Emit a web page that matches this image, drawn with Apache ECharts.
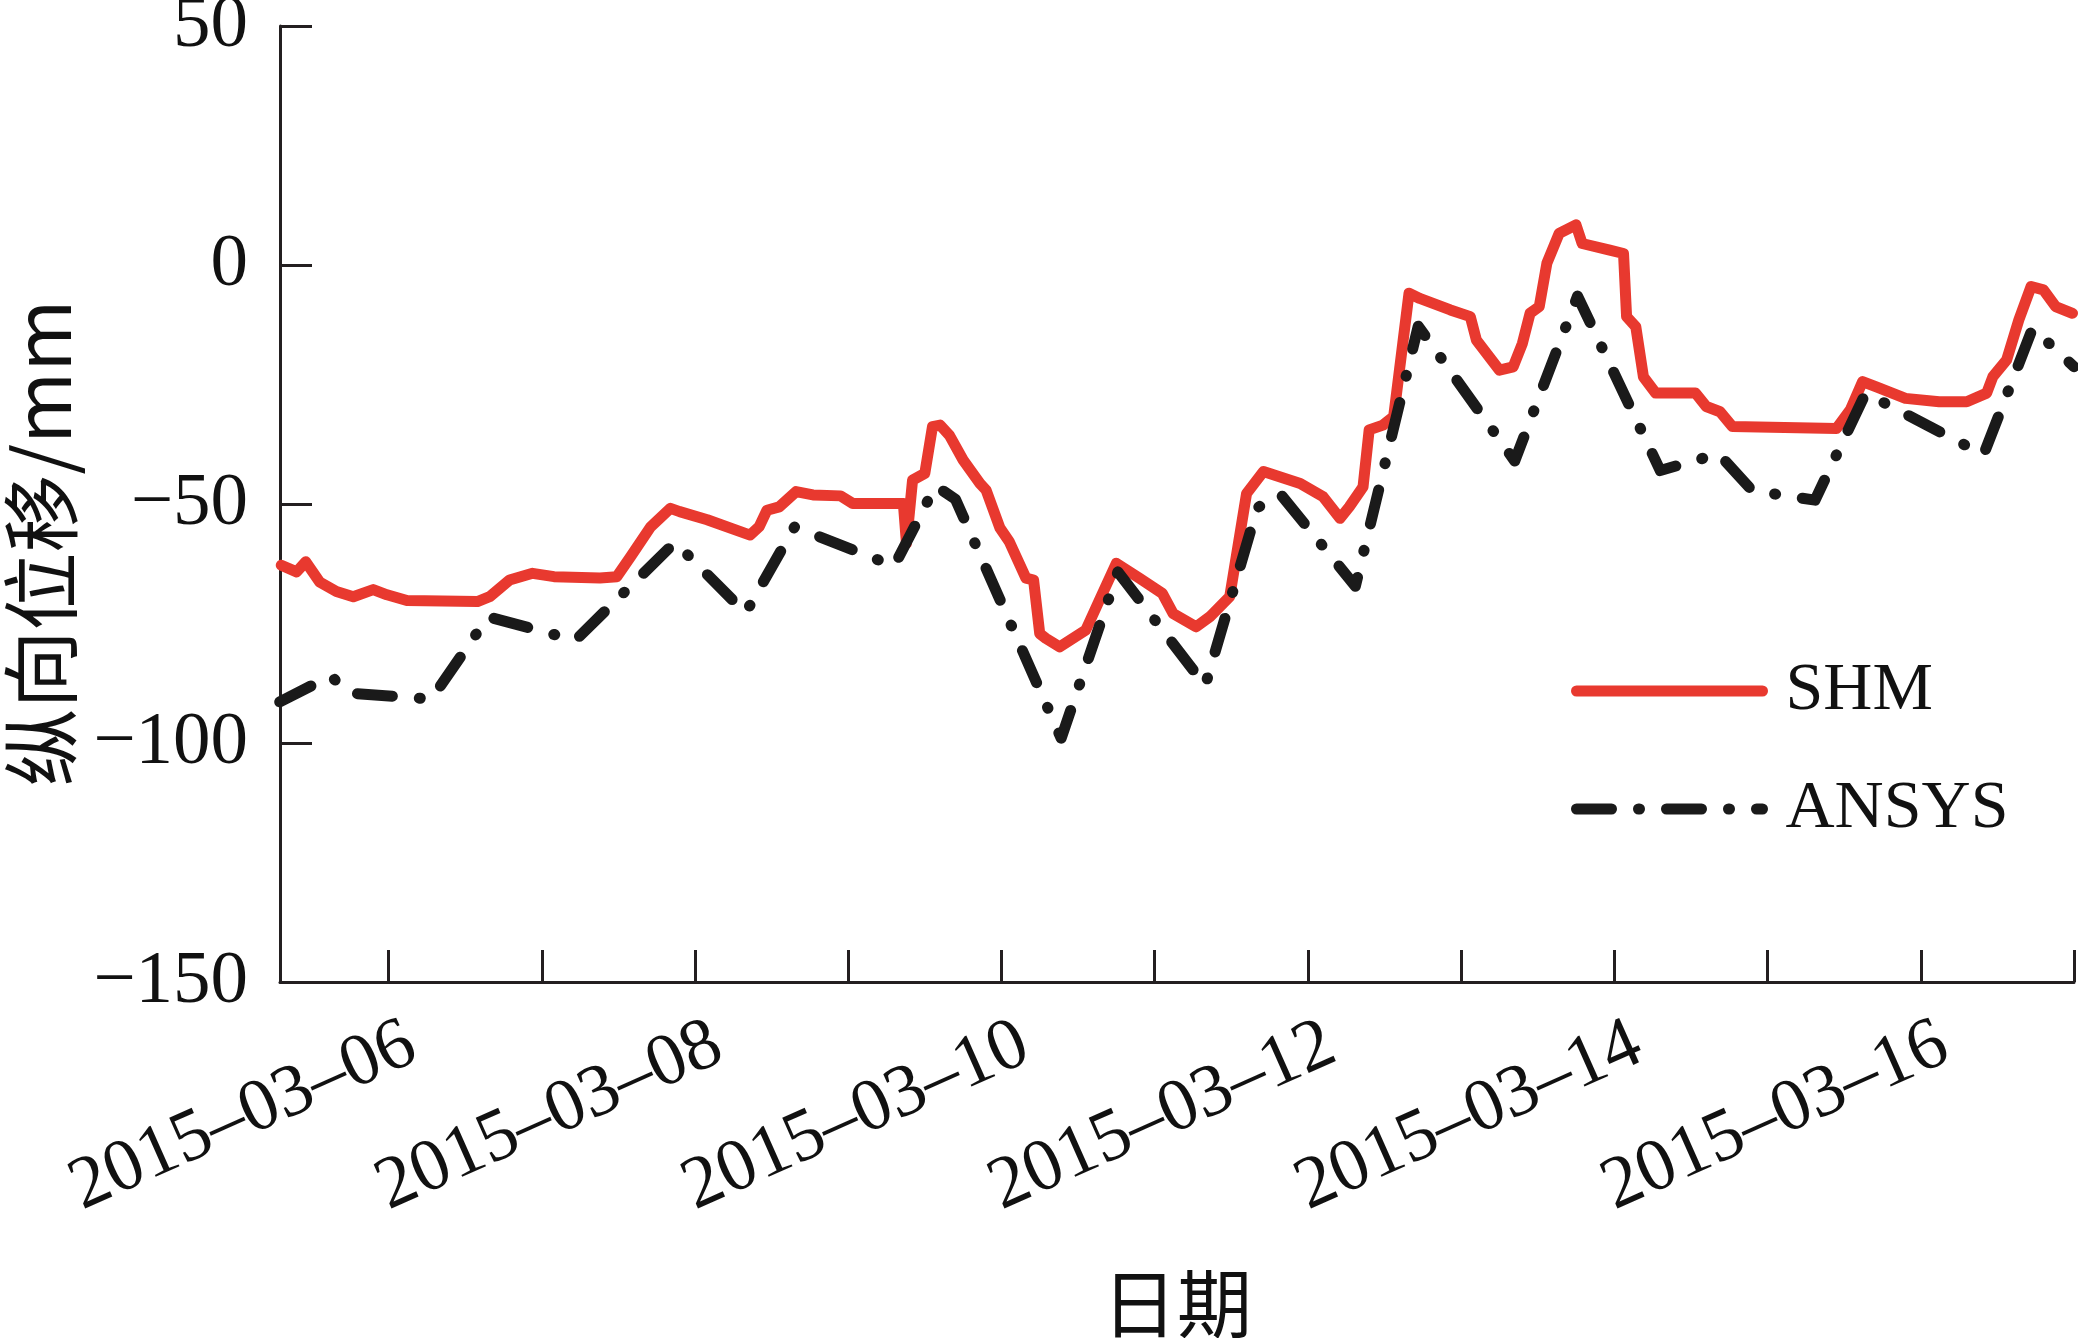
<!DOCTYPE html>
<html>
<head>
<meta charset="utf-8">
<script src="https://cdn.jsdelivr.net/npm/echarts@6/dist/echarts.min.js"></script>
<style>
html,body{margin:0;padding:0;background:#fff;}
#chart{width:2078px;height:1338px;}
</style>
</head>
<body>
<div id="chart"></div>
<script>
// x values are day-of-March 2015 (fractional)
const shmDays = [5.30,5.40,5.46,5.55,5.66,5.77,5.90,5.99,6.12,6.58,6.66,6.79,6.94,7.08,7.38,7.49,7.58,7.71,7.84,7.90,
  8.08,8.36,8.42,8.47,8.55,8.66,8.77,8.95,9.03,9.36,9.38,9.42,9.50,9.55,9.60,9.66,9.75,9.86,9.90,9.99,
  10.05,10.16,10.21,10.25,10.29,10.38,10.55,10.64,10.75,10.90,11.05,11.12,11.27,11.36,11.49,11.60,11.71,11.95,12.10,12.21,
  12.27,12.36,12.40,12.49,12.56,12.66,12.73,12.93,13.06,13.10,13.25,13.34,13.40,13.45,13.51,13.56,13.64,13.75,13.79,13.97,
  14.06,14.08,14.14,14.19,14.27,14.53,14.60,14.69,14.77,15.45,15.54,15.62,15.71,15.90,16.12,16.30,16.43,16.47,16.56,16.64,
  16.72,16.80,16.88,16.99];
const shmValues = [-62.8,-64.2,-62.1,-66.3,-68.3,-69.4,-67.9,-69.0,-70.2,-70.4,-69.4,-65.9,-64.5,-65.2,-65.5,-65.2,-61.0,-54.8,-50.9,-51.6,
  -53.3,-56.5,-54.7,-51.3,-50.6,-47.4,-48.1,-48.3,-49.9,-49.9,-58.2,-45.0,-43.6,-33.8,-33.5,-35.6,-40.8,-45.7,-47.1,-55.0,
  -57.8,-65.5,-65.9,-77.1,-78.1,-79.9,-76.4,-70.1,-62.4,-65.5,-68.7,-72.9,-75.7,-73.6,-69.4,-47.8,-43.2,-45.7,-48.5,-53.0,
  -50.6,-46.4,-34.5,-33.5,-31.7,-5.9,-7.0,-9.4,-10.8,-15.7,-22.0,-21.3,-16.4,-10.1,-8.7,0.4,6.6,8.4,4.5,3.1,
  2.4,-10.8,-12.9,-23.4,-26.8,-26.8,-29.6,-30.7,-33.8,-34.2,-30.3,-24.4,-25.5,-27.9,-28.6,-28.6,-26.8,-23.4,-19.9,-11.5,
  -4.5,-5.2,-8.7,-10.1];
const ansysDays = [5.29,5.62,5.76,6.28,6.65,7.22,7.87,8.33,8.65,9.30,9.57,9.70,10.39,10.76,11.33,11.67,11.82,12.31,12.72,13.35,
  13.76,14.30,14.68,14.90,15.31,15.64,16.41,16.73,17.00];
const ansysValues = [-91.4,-86.0,-89.6,-90.8,-73.6,-78.5,-58.0,-72.8,-54.8,-63.0,-46.2,-49.0,-99.0,-64.2,-88.0,-50.8,-47.9,-67.2,-12.8,-41.0,
  -6.5,-43.0,-39.5,-47.2,-49.2,-26.8,-39.7,-13.2,-21.3];
const yTicks = [-150, -100, -50, 0, 50];
const seriesNames = ['SHM', 'ANSYS'];

const zip = (xs, ys) => xs.map((x, i) => [x, ys[i]]);
const axisColor = '#231f20';
const red = '#e8392f';
const black = '#1a1a1a';
const dashPattern = [35, 27, 1, 27];
const serif = '"Liberation Serif", "Times New Roman", serif';
const cjk = '"Noto Sans CJK SC", sans-serif';

const chart = echarts.init(document.getElementById('chart'), null, {renderer: 'canvas'});
chart.setOption({
  animation: false,
  backgroundColor: '#ffffff',
  grid: {left: 280, right: 4, top: 26, bottom: 356, containLabel: false, outerBoundsMode: 'none'},
  legend: {
    orient: 'vertical',
    left: 1566,
    top: 652,
    itemWidth: 186,
    itemHeight: 12,
    itemGap: 50,
    itemStyle: {color: 'rgba(0,0,0,0)', borderWidth: 0, opacity: 0},
    data: [
      {name: seriesNames[0], lineStyle: {color: red, width: 11, cap: 'round', type: 'solid'}},
      {name: seriesNames[1], lineStyle: {color: black, width: 11, cap: 'round', type: dashPattern}}
    ],
    textStyle: {fontFamily: serif, fontSize: 68, color: '#111', lineHeight: 68, padding: [0, 0, 0, 18]}
  },
  xAxis: {
    type: 'value',
    min: 5.2917,
    max: 17,
    splitNumber: 12,
    minInterval: 1,
    maxInterval: 1,
    name: '日期',
    nameLocation: 'middle',
    nameGap: 284,
    nameTextStyle: {fontFamily: cjk, fontSize: 75, color: '#111'},
    axisLine: {show: true, onZero: false, lineStyle: {color: axisColor, width: 3}},
    axisTick: {show: true, inside: true, length: 32, lineStyle: {color: axisColor, width: 3}},
    splitLine: {show: false},
    axisLabel: {
      rotate: 24,
      margin: 70,
      fontFamily: serif,
      fontSize: 74,
      color: '#111',
      padding: [0, -26, 0, 0],
      showMinLabel: false,
      formatter: function (v) {
        const r = Math.round(v);
        if (Math.abs(v - r) > 1e-6 || r % 2 !== 0) return '';
        return '2015–03–' + String(r).padStart(2, '0');
      }
    }
  },
  yAxis: {
    type: 'value',
    min: yTicks[0],
    max: yTicks[yTicks.length - 1],
    interval: 50,
    name: '纵向位移/mm',
    nameLocation: 'middle',
    nameGap: 200,
    nameTextStyle: {fontFamily: cjk, fontSize: 78, color: '#111', padding: [0, 78, 0, 0]},
    axisLine: {show: true, onZero: false, lineStyle: {color: axisColor, width: 3}},
    axisTick: {show: true, inside: true, length: 32, lineStyle: {color: axisColor, width: 3}},
    splitLine: {show: false},
    axisLabel: {
      margin: 32,
      fontFamily: serif,
      fontSize: 75,
      color: '#111',
      formatter: function (v) { return v < 0 ? '−' + Math.abs(v) : String(v); }
    }
  },
  series: [
    {
      name: seriesNames[0],
      type: 'line',
      data: zip(shmDays, shmValues),
      symbol: 'none',
      color: red,
      lineStyle: {color: red, width: 11, cap: 'round', join: 'round'},
      z: 2
    },
    {
      name: seriesNames[1],
      type: 'line',
      data: zip(ansysDays, ansysValues),
      symbol: 'none',
      color: black,
      lineStyle: {color: black, width: 11, type: dashPattern, cap: 'round', join: 'round'},
      z: 3
    }
  ]
});
</script>
</body>
</html>
